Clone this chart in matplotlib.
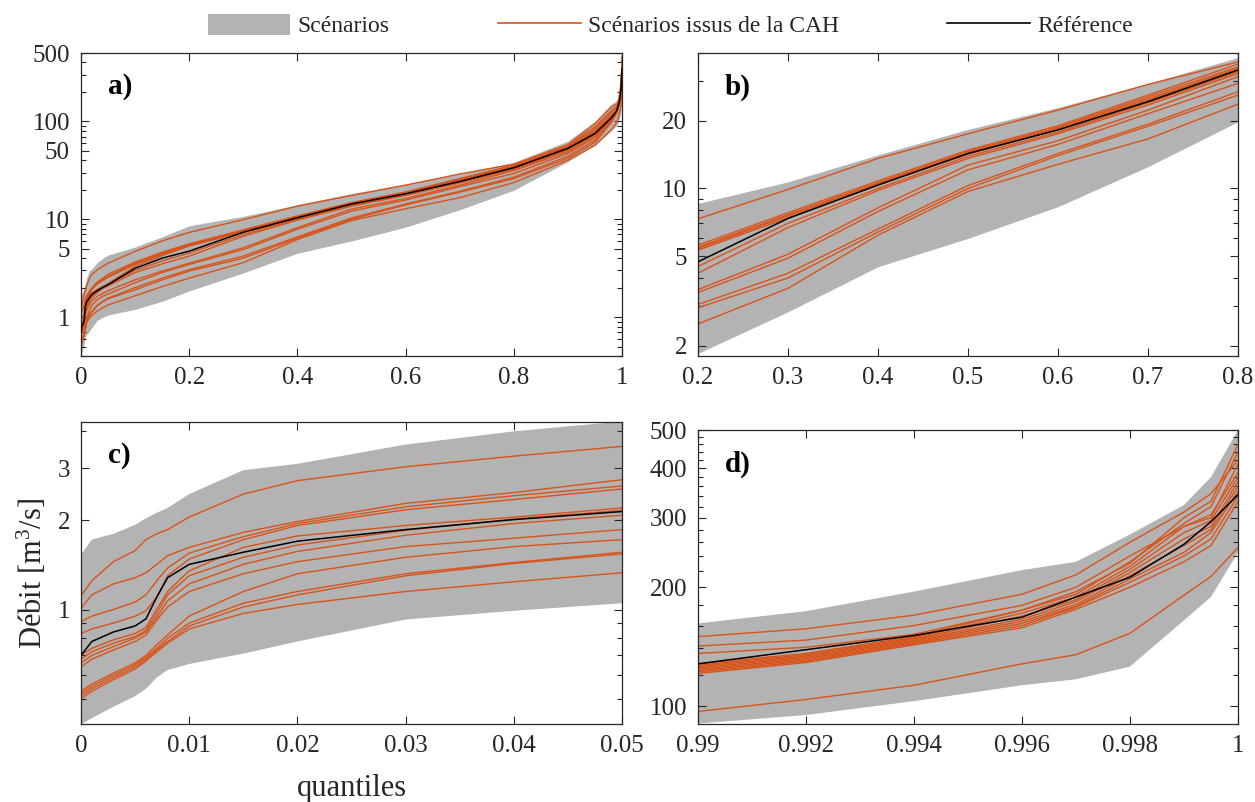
import matplotlib
matplotlib.use('Agg')
import matplotlib.pyplot as plt
import matplotlib.ticker as mt
from matplotlib.patches import Patch
from matplotlib.lines import Line2D
import numpy as np

# ---------------- data ----------------
quantiles = [0, 0.001, 0.003, 0.005, 0.006, 0.007, 0.008, 0.01, 0.015, 0.02, 0.03, 0.04, 0.05,
             0.1, 0.15, 0.2, 0.3, 0.4, 0.5, 0.6, 0.7, 0.8, 0.9, 0.95, 0.98,
             0.99, 0.992, 0.994, 0.996, 0.997, 0.998, 0.999, 0.9995, 1.0]

env_low = [0.41, 0.43, 0.47, 0.51, 0.54, 0.59, 0.625, 0.655, 0.71, 0.78, 0.925, 0.99, 1.05,
           1.2, 1.45, 1.85, 2.83, 4.49, 6.0, 8.3, 12.5, 19.8, 38.8, 57, 80,
           90.4, 95, 103, 113, 117, 126, 165, 189, 245]
env_high = [1.53, 1.72, 1.80, 1.93, 2.03, 2.12, 2.20, 2.45, 2.95, 3.10, 3.60, 3.99, 4.31,
            5.2, 6.6, 8.58, 10.7, 14.1, 18.3, 22.9, 29.3, 38.2, 63, 100, 150,
            162, 174, 195, 221, 232, 272, 323, 380, 500]
reference = [0.70, 0.78, 0.84, 0.88, 0.93, 1.10, 1.28, 1.42, 1.56, 1.70, 1.86, 2.01, 2.14,
             3.15, 4.0, 4.72, 7.36, 10.35, 14.3, 18.2, 24.3, 33.6, 53, 75, 108,
             128, 139, 151, 168, 189, 212, 257, 293, 343]

scen_01 = [1.11, 1.25, 1.45, 1.58, 1.72, 1.80, 1.86, 2.05, 2.45, 2.72, 3.03, 3.29, 3.55,
           4.7, 6.0, 7.33, 9.9, 13.6, 17.5, 22.3, 29.0, 36.5, 58, 95, 140,
           150, 157, 170, 192, 215, 260, 310, 345, 420]
scen_02 = [1.01, 1.12, 1.22, 1.28, 1.33, 1.42, 1.52, 1.62, 1.82, 1.98, 2.28, 2.48, 2.74,
           3.65, 4.6, 5.6, 7.8, 10.8, 14.8, 19.0, 26.0, 35.7, 56, 88, 128,
           142, 147, 160, 180, 200, 240, 285, 305, 390]
scen_03 = [0.91, 0.95, 1.00, 1.06, 1.12, 1.25, 1.38, 1.55, 1.76, 1.95, 2.22, 2.42, 2.61,
           3.55, 4.5, 5.48, 7.65, 10.6, 14.6, 18.7, 25.5, 34.7, 55, 84, 122,
           136, 141, 152, 175, 195, 230, 300, 330, 460]
scen_04 = [0.83, 0.86, 0.90, 0.95, 0.99, 1.10, 1.30, 1.48, 1.72, 1.92, 2.17, 2.35, 2.55,
           3.45, 4.4, 5.4, 7.55, 10.5, 14.4, 18.5, 25.0, 34.1, 54, 80, 115,
           128, 136, 150, 175, 192, 232, 290, 320, 440]
scen_05 = [0.70, 0.74, 0.79, 0.83, 0.87, 1.00, 1.15, 1.35, 1.62, 1.77, 1.92, 2.05, 2.20,
           3.3, 4.25, 5.32, 7.4, 10.4, 14.2, 18.3, 24.6, 33.8, 53, 78, 112,
           127, 135, 149, 172, 189, 226, 285, 300, 410]
scen_06 = [0.68, 0.72, 0.77, 0.81, 0.85, 0.97, 1.12, 1.30, 1.50, 1.65, 1.85, 2.02, 2.16,
           3.0, 3.75, 4.5, 7.0, 10.0, 13.9, 17.8, 24.0, 33.0, 52, 76, 110,
           126, 134, 148, 169, 186, 222, 275, 295, 380]
scen_07 = [0.66, 0.70, 0.75, 0.80, 0.84, 0.94, 1.07, 1.22, 1.42, 1.57, 1.78, 1.95, 2.08,
           2.85, 3.5, 4.2, 6.7, 9.8, 13.6, 17.5, 23.5, 32.4, 51, 74, 108,
           125, 133, 147, 166, 184, 218, 265, 285, 370]
scen_08 = [0.64, 0.68, 0.73, 0.78, 0.82, 0.92, 1.02, 1.15, 1.32, 1.45, 1.63, 1.74, 1.86,
           2.4, 2.95, 3.55, 5.1, 8.2, 12.7, 16.3, 22.3, 31.4, 49, 71, 105,
           124, 132, 146, 164, 181, 214, 255, 280, 360]
scen_09 = [0.53, 0.56, 0.61, 0.66, 0.70, 0.76, 0.82, 0.95, 1.15, 1.32, 1.50, 1.63, 1.72,
           2.25, 2.85, 3.45, 4.9, 7.9, 12.1, 15.7, 21.5, 29.3, 47, 68, 102,
           123, 131, 145, 162, 179, 210, 245, 275, 350]
scen_10 = [0.52, 0.55, 0.60, 0.65, 0.69, 0.74, 0.80, 0.90, 1.05, 1.15, 1.32, 1.44, 1.56,
           2.0, 2.5, 3.05, 4.2, 6.6, 10.3, 14.3, 19.3, 26.9, 44, 64, 99,
           122, 130, 144, 160, 178, 206, 240, 265, 340]
scen_11 = [0.51, 0.54, 0.59, 0.64, 0.68, 0.73, 0.78, 0.88, 1.02, 1.12, 1.30, 1.43, 1.54,
           1.9, 2.4, 2.95, 4.0, 6.4, 10.0, 14.0, 18.9, 26.0, 42, 61, 97,
           121, 129, 143, 158, 176, 200, 232, 255, 330]
scen_12 = [0.50, 0.53, 0.58, 0.63, 0.67, 0.72, 0.77, 0.86, 0.97, 1.04, 1.15, 1.24, 1.33,
           1.65, 2.05, 2.5, 3.6, 6.2, 9.7, 12.8, 16.6, 23.7, 40, 57, 82,
           97, 104, 113, 128, 135, 153, 191, 213, 252]
scenarios_cah = [scen_01, scen_02, scen_03, scen_04, scen_05, scen_06,
                 scen_07, scen_08, scen_09, scen_10, scen_11, scen_12]

panel_letters = ['a)', 'b)', 'c)', 'd)']
x_ranges = [(0, 1), (0.2, 0.8), (0, 0.05), (0.99, 1.0)]
x_ticks = [[0, 0.2, 0.4, 0.6, 0.8, 1], [0.2, 0.3, 0.4, 0.5, 0.6, 0.7, 0.8],
           [0, 0.01, 0.02, 0.03, 0.04, 0.05], [0.99, 0.992, 0.994, 0.996, 0.998, 1.0]]
x_labels = [['0', '0.2', '0.4', '0.6', '0.8', '1'],
            ['0.2', '0.3', '0.4', '0.5', '0.6', '0.7', '0.8'],
            ['0', '0.01', '0.02', '0.03', '0.04', '0.05'],
            ['0.99', '0.992', '0.994', '0.996', '0.998', '1']]
y_ranges = [(0.4, 500), (1.8, 40), (0.41, 4.3), (90, 500)]
y_ticks = [[1, 5, 10, 50, 100, 500], [2, 5, 10, 20], [1, 2, 3], [100, 200, 300, 400, 500]]

# ---------------- style ----------------
plt.rcParams['font.family'] = ['Liberation Serif', 'DejaVu Serif']
plt.rcParams['mathtext.fontset'] = 'custom'
plt.rcParams['mathtext.rm'] = 'Liberation Serif'
plt.rcParams['mathtext.it'] = 'Liberation Serif:italic'

GRAY = '#b3b3b3'
ORANGE = '#d95319'
AXC = '#262626'

fig = plt.figure(figsize=(12.55, 8.02), dpi=100)
W, H = 1255.0, 802.0
boxes = [(81, 53, 622, 356), (698, 53, 1238, 356),
         (81, 421.7, 622, 724.3), (698, 430, 1238, 724.3)]
axes = []
for (x0, y0, x1, y1) in boxes:
    axes.append(fig.add_axes([x0 / W, 1 - y1 / H, (x1 - x0) / W, (y1 - y0) / H]))

q = np.array(quantiles)
for i, ax in enumerate(axes):
    ax.fill_between(q, env_low, env_high, color=GRAY, lw=0, zorder=1)
    for s in scenarios_cah:
        ax.plot(q, s, color=ORANGE, lw=1.0, zorder=2)
    ax.plot(q, reference, color='black', lw=1.1, zorder=3)
    ax.set_yscale('log')
    ax.set_xlim(*x_ranges[i])
    ax.set_ylim(*y_ranges[i])
    ax.set_xticks(x_ticks[i])
    ax.set_xticklabels(x_labels[i])
    ax.yaxis.set_major_locator(mt.FixedLocator(y_ticks[i]))
    ax.yaxis.set_major_formatter(mt.FixedFormatter(['%g' % t for t in y_ticks[i]]))
    if i == 3:
        ax.yaxis.set_minor_locator(mt.FixedLocator(list(range(100, 520, 20))))
    else:
        ax.yaxis.set_minor_locator(mt.LogLocator(base=10, subs=np.arange(2, 10), numticks=30))
    ax.yaxis.set_minor_formatter(mt.NullFormatter())
    ax.xaxis.set_minor_locator(mt.NullLocator())
    ax.tick_params(which='both', direction='in', top=True, right=True, colors=AXC, labelsize=18)
    ax.tick_params(which='major', length=6, width=0.8, pad=8)
    ax.tick_params(which='minor', length=3.5, width=0.8)
    for sp in ax.spines.values():
        sp.set_color(AXC)
        sp.set_linewidth(0.9)
    h = boxes[i][3] - boxes[i][1]
    ax.text(0.05, 1 - 34 / h, panel_letters[i], transform=ax.transAxes, fontsize=21,
            fontweight='bold', ha='left', va='center', color='black')

axes[2].set_ylabel(r'Débit [m$^{\mathrm{3}}$/s]', fontsize=22, color=AXC)
axes[2].yaxis.set_label_coords(-0.060, 0.5)
axes[2].set_xlabel('quantiles', fontsize=22, color=AXC)
axes[2].xaxis.set_label_coords(0.5, -0.165)

handles = [Patch(facecolor=GRAY, edgecolor='none'),
           Line2D([], [], color=ORANGE, lw=1.2),
           Line2D([], [], color='black', lw=1.2)]
labels = ['Scénarios', 'Scénarios issus de la CAH', 'Référence']
fig.legend(handles, labels, loc='center', bbox_to_anchor=(0.534, 0.968), ncol=3,
           frameon=False, fontsize=17, handlelength=3.5, handleheight=1.0,
           handletextpad=0.3, columnspacing=4.6, labelcolor=AXC)

fig.savefig('out.png', dpi=100)
